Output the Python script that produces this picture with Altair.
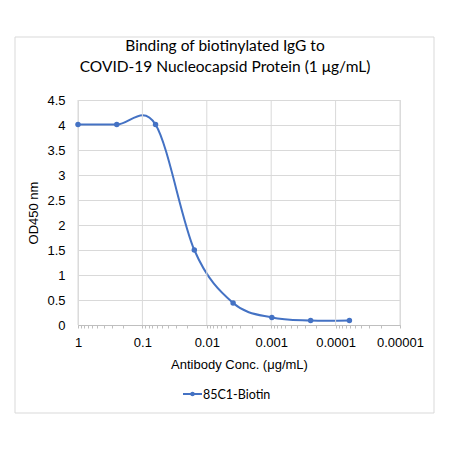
import altair as alt
import pandas as pd

# Serial 4-fold dilution of the biotinylated antibody and measured OD450
conc = [1, 0.25, 0.0625, 0.015625, 0.00390625, 0.0009765625, 0.000244140625, 0.00006103515625]
od450 = [4.01, 4.01, 4.01, 1.50, 0.44, 0.15, 0.09, 0.09]
series_name = "85C1-Biotin"
title_lines = ["Binding of biotinylated IgG to", "COVID-19 Nucleocapsid Protein (1 μg/mL)"]

decades = [1, 0.1, 0.01, 0.001, 0.0001, 0.00001]
y_ticks = [0, 0.5, 1, 1.5, 2, 2.5, 3, 3.5, 4, 4.5]

# Major ticks at decades plus minor ticks at 2..9 within each decade
x_tick_values = sorted(decades + [m * d for d in decades[1:] for m in range(2, 10)])

BLUE = "#4472C4"
GRID = "#D9D9D9"
FONT = "Lato"

W, H = 322, 225

df = pd.DataFrame({"conc": conc, "od": od450, "series": series_name})
dec_df = pd.DataFrame({"conc": decades})
one = pd.DataFrame({"k": [0]})

x_scale = alt.Scale(type="log", domain=[0.00001, 1], reverse=True, nice=False)
y_scale = alt.Scale(domain=[0, 4.5], nice=False)

label_expr = (
    "abs(log(datum.value)/LN10 - round(log(datum.value)/LN10)) < 1e-6 ? "
    "format(datum.value, '.' + (-round(log(datum.value)/LN10)) + 'f') : ''"
)

x_axis = alt.Axis(
    title="Antibody Conc. (μg/mL)",
    values=x_tick_values,
    labelExpr=label_expr,
    grid=False,
    domainColor="#BFBFBF",
    tickColor="#BFBFBF",
    tickSize=3,
    labelPadding=8,
    labelFontSize=13,
    titleFontSize=13,
    titleFontWeight="normal",
    titlePadding=9,
    labelFlush=False,
    labelOverlap=False,
)

y_axis = alt.Axis(
    title="OD450 nm",
    values=y_ticks,
    format=".1~f",
    grid=True,
    gridColor=GRID,
    domain=False,
    ticks=False,
    labelPadding=13,
    labelFontSize=13,
    titleFontSize=13,
    titleFontWeight="normal",
    titlePadding=6,
    labelOverlap=False,
)

X = alt.X("conc:Q", scale=x_scale, axis=x_axis)
Y = alt.Y("od:Q", scale=y_scale, axis=y_axis)

line = alt.Chart(df).mark_line(
    interpolate="cardinal", color=BLUE, strokeWidth=2
).encode(x=X, y=Y)

points = alt.Chart(df).mark_circle(color=BLUE, size=30, opacity=1).encode(x=X, y=Y)

# Vertical gridlines at each decade
vgrid = alt.Chart(dec_df).mark_rule(color=GRID, strokeWidth=1).encode(x=X)

# Outer frame around the whole chart
frame = alt.Chart(one).mark_rect(fill=None, stroke=GRID, strokeWidth=1).encode(
    x=alt.value(-63), x2=alt.value(356), y=alt.value(-63), y2=alt.value(313)
)

# Two-line chart title
title1 = alt.Chart(one).mark_text(
    text=title_lines[0], align="center", baseline="alphabetic", fontSize=15.5, font=FONT, color="black"
).encode(x=alt.value(147), y=alt.value(-49))
title2 = alt.Chart(one).mark_text(
    text=title_lines[1], align="center", baseline="alphabetic", fontSize=15.5, font=FONT, color="black"
).encode(x=alt.value(147), y=alt.value(-28))

# Legend drawn below the axis title
leg_line = alt.Chart(one).mark_rule(color=BLUE, strokeWidth=2).encode(
    x=alt.value(105), x2=alt.value(124), y=alt.value(294)
)
leg_dot = alt.Chart(one).mark_circle(color=BLUE, size=20, opacity=1).encode(
    x=alt.value(114.5), y=alt.value(294)
)
leg_text = alt.Chart(one).mark_text(
    text=series_name, align="left", baseline="middle", fontSize=12.5, font=FONT, color="black"
).encode(x=alt.value(125), y=alt.value(294.5))

chart = alt.layer(
    line, vgrid, points, frame, title1, title2, leg_line, leg_dot, leg_text
).properties(
    width=W,
    height=H,
    padding={"left": 78, "top": 100, "right": 50, "bottom": 125},
    autosize=alt.AutoSizeParams(type="none"),
).configure_view(stroke=None).configure_axis(
    labelFont=FONT, titleFont=FONT, labelColor="black", titleColor="black"
).configure(background="white")

chart.save("out.html", embed_options={"renderer": "svg", "actions": False})
